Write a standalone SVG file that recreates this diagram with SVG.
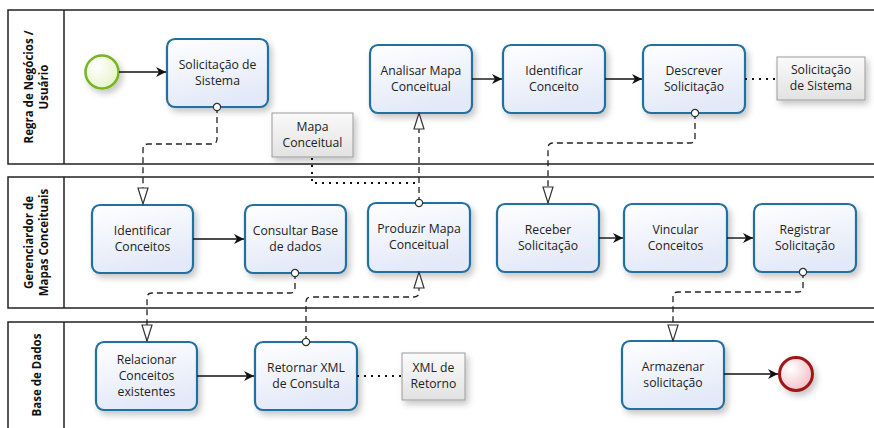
<svg xmlns="http://www.w3.org/2000/svg" width="874" height="428" viewBox="0 0 874 428">
<defs>
<linearGradient id="gTask" x1="0" y1="0" x2="0.3" y2="1"><stop offset="0" stop-color="#ffffff"/><stop offset="1" stop-color="#e3e9f8"/></linearGradient>
<linearGradient id="gNote" x1="0" y1="0" x2="0" y2="1"><stop offset="0" stop-color="#fafafa"/><stop offset="1" stop-color="#e2e2e2"/></linearGradient>
<radialGradient id="gStart" cx="0.35" cy="0.35" r="0.7"><stop offset="0" stop-color="#ffffff"/><stop offset="1" stop-color="#e6f3c9"/></radialGradient>
<radialGradient id="gEnd" cx="0.35" cy="0.35" r="0.7"><stop offset="0" stop-color="#ffffff"/><stop offset="1" stop-color="#f2c0c8"/></radialGradient>
<filter id="sh" x="-20%" y="-20%" width="150%" height="150%"><feDropShadow dx="3" dy="4" stdDeviation="3" flood-color="#000" flood-opacity="0.22"/></filter>
<marker id="arr" viewBox="0 0 10 10" refX="10" refY="5" markerWidth="10" markerHeight="10" markerUnits="userSpaceOnUse" orient="auto"><path d="M0,0 L10,5 L0,10 L3,5 Z" fill="#111"/></marker>
<marker id="tri" viewBox="0 0 18 12" refX="17" refY="6" markerWidth="18" markerHeight="12" markerUnits="userSpaceOnUse" orient="auto"><path d="M1,1 L17,6 L1,11 Z" fill="#fff" stroke="#333" stroke-width="1.2" stroke-dasharray="none"/></marker>
<marker id="dot" viewBox="0 0 10 10" refX="5" refY="5" markerWidth="10" markerHeight="10" markerUnits="userSpaceOnUse" orient="auto"><circle cx="5" cy="5" r="3.6" fill="#fff" stroke="#333" stroke-width="1.2" stroke-dasharray="none"/></marker>
</defs>
<style>
.lane{fill:#fff;stroke:#222;stroke-width:1.5}
.hdr{font-family:"Open Sans","DejaVu Sans",sans-serif;font-weight:bold;font-size:11.5px;fill:#111;text-anchor:middle}
.task rect{fill:url(#gTask);stroke:#22709f;stroke-width:2.2;filter:url(#sh)}
.note rect{fill:url(#gNote);stroke:#9a9a9a;stroke-width:1;filter:url(#sh)}
text.t{font-family:"Open Sans","DejaVu Sans",sans-serif;font-size:12.2px;fill:#222;text-anchor:middle}
.seq{fill:none;stroke:#111;stroke-width:1.4;marker-end:url(#arr)}
.msg{fill:none;stroke:#222;stroke-width:1.3;stroke-dasharray:6 4;marker-start:url(#dot);marker-end:url(#tri)}
.assoc{fill:none;stroke:#111;stroke-width:2;stroke-dasharray:2 5}
</style>
<g id="lanes">
<g id="lane1"><rect class="lane" x="8" y="10" width="880" height="154"/><line x1="64" y1="10" x2="64" y2="164" stroke="#222" stroke-width="1.5"/>
<text class="hdr" transform="translate(33,87) rotate(-90)">Regra de Negócios /</text><text class="hdr" transform="translate(48,87) rotate(-90)">Usuário</text></g>
<g id="lane2"><rect class="lane" x="8" y="177" width="880" height="131"/><line x1="64" y1="177" x2="64" y2="308" stroke="#222" stroke-width="1.5"/>
<text class="hdr" transform="translate(33,242.5) rotate(-90)">Gerenciardor de</text><text class="hdr" transform="translate(48,242.5) rotate(-90)">Mapas Conceituais</text></g>
<g id="lane3"><rect class="lane" x="8" y="322" width="880" height="120"/><line x1="64" y1="322" x2="64" y2="442" stroke="#222" stroke-width="1.5"/>
<text class="hdr" transform="translate(41,375) rotate(-90)">Base de Dados</text></g>
</g>
<g id="start"><circle cx="102" cy="72" r="16.5" fill="url(#gStart)" stroke="#78b41e" stroke-width="2.5" filter="url(#sh)"/></g>
<g id="end"><circle cx="796" cy="374" r="16.5" fill="url(#gEnd)" stroke="#a01818" stroke-width="3" filter="url(#sh)"/></g>
<g id="solicitacaoSistema" class="task"><rect x="167" y="39" width="101" height="68" rx="8"/><text class="t" x="217.5" y="69">Solicitação de</text><text class="t" x="217.5" y="85">Sistema</text></g>
<g id="analisarMapa" class="task"><rect x="370" y="45" width="102" height="68" rx="8"/><text class="t" x="421" y="75">Analisar Mapa</text><text class="t" x="421" y="91">Conceitual</text></g>
<g id="identificarConceito" class="task"><rect x="503" y="45" width="102" height="68" rx="8"/><text class="t" x="554" y="75">Identificar</text><text class="t" x="554" y="91">Conceito</text></g>
<g id="descreverSolicitacao" class="task"><rect x="643" y="45" width="102" height="68" rx="8"/><text class="t" x="694" y="75">Descrever</text><text class="t" x="694" y="91">Solicitação</text></g>
<g id="noteSolicitacao" class="note"><rect x="777" y="57" width="88" height="43"/><text class="t" x="821" y="74">Solicitação</text><text class="t" x="821" y="90">de Sistema</text></g>
<g id="noteMapa" class="note"><rect x="272" y="113" width="81" height="44"/><text class="t" x="312.5" y="131">Mapa</text><text class="t" x="312.5" y="147">Conceitual</text></g>
<g id="identificarConceitos" class="task"><rect x="92" y="205" width="101" height="68" rx="8"/><text class="t" x="142.5" y="235">Identificar</text><text class="t" x="142.5" y="251">Conceitos</text></g>
<g id="consultarBase" class="task"><rect x="245" y="205" width="101" height="68" rx="8"/><text class="t" x="295.5" y="235">Consultar Base</text><text class="t" x="295.5" y="251">de dados</text></g>
<g id="produzirMapa" class="task"><rect x="368" y="203" width="102" height="69" rx="8"/><text class="t" x="419" y="233">Produzir Mapa</text><text class="t" x="419" y="249">Conceitual</text></g>
<g id="receberSolicitacao" class="task"><rect x="497" y="204" width="102" height="68" rx="8"/><text class="t" x="548" y="234">Receber</text><text class="t" x="548" y="250">Solicitação</text></g>
<g id="vincularConceitos" class="task"><rect x="624" y="204" width="103" height="68" rx="8"/><text class="t" x="675.5" y="234">Vincular</text><text class="t" x="675.5" y="250">Conceitos</text></g>
<g id="registrarSolicitacao" class="task"><rect x="754" y="204" width="102" height="68" rx="8"/><text class="t" x="805" y="234">Registrar</text><text class="t" x="805" y="250">Solicitação</text></g>
<g id="relacionarConceitos" class="task"><rect x="96" y="342" width="101" height="68" rx="8"/><text class="t" x="146.5" y="364">Relacionar</text><text class="t" x="146.5" y="380">Conceitos</text><text class="t" x="146.5" y="396">existentes</text></g>
<g id="retornarXML" class="task"><rect x="255" y="342" width="102" height="68" rx="8"/><text class="t" x="306" y="372">Retornar XML</text><text class="t" x="306" y="388">de Consulta</text></g>
<g id="noteXML" class="note"><rect x="402" y="353" width="63" height="47"/><text class="t" x="433.5" y="372">XML de</text><text class="t" x="433.5" y="388">Retorno</text></g>
<g id="armazenarSolicitacao" class="task"><rect x="622" y="341" width="102" height="68" rx="8"/><text class="t" x="673" y="371">Armazenar</text><text class="t" x="673" y="387">solicitação</text></g>
<g id="connectors">
<path class="seq" d="M119,72 H166"/>
<path class="seq" d="M472,79 H502"/>
<path class="seq" d="M605,79 H642"/>
<path class="seq" d="M193,239 H244"/>
<path class="seq" d="M599,238 H623"/>
<path class="seq" d="M727,238 H753"/>
<path class="seq" d="M197,376 H254"/>
<path class="seq" d="M724,374 H778"/>
<path class="msg" d="M217,107 V139 Q217,144 212,144 H148 Q143,144 143,149 V204"/>
<path class="msg" d="M419,203 V113"/>
<path class="msg" d="M695,113 V138 Q695,143 690,143 H553 Q548,143 548,148 V203"/>
<path class="msg" d="M295,273 V288 Q295,293 290,293 H152 Q147,293 147,298 V341"/>
<path class="msg" d="M306,342 V302 Q306,297 311,297 H414 Q419,297 419,292 V272"/>
<path class="msg" d="M803,272 V287 Q803,292 798,292 H678 Q673,292 673,297 V341"/>
<path class="assoc" d="M745,79 H777"/>
<path class="assoc" d="M357,376 H402"/>
<path class="assoc" d="M312,158 V183 H419"/>
</g>
</svg>
